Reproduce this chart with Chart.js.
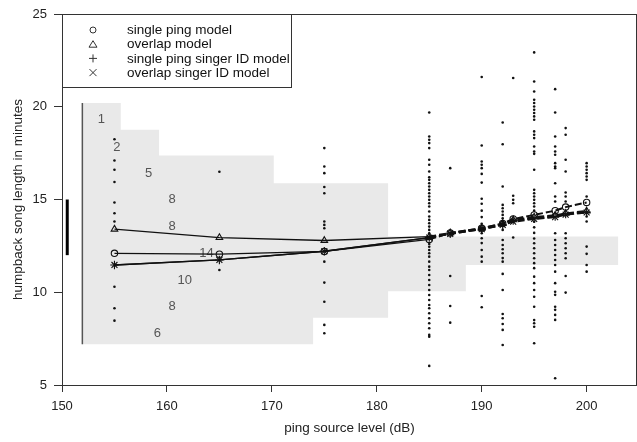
<!DOCTYPE html>
<html>
<head>
<meta charset="utf-8">
<script src="https://cdn.jsdelivr.net/npm/chart.js@4.4.1/dist/chart.umd.min.js"></script>
<style>
  html, body { margin: 0; padding: 0; background: #fff; }
  #canvas { display: block; }
</style>
</head>
<body>
<canvas id="canvas" width="637" height="442"></canvas>
<script>
// ping source levels where the models were evaluated
var levels = [155, 165, 175, 185, 187, 190, 192, 193, 195, 197, 198, 200];
var singlePing   = [12.1, 12.05, 12.2, 12.85, 13.2, 13.45, 13.7, 13.95, 14.17, 14.4, 14.59, 14.84];
var overlap      = [13.4, 12.95, 12.79, 13.0, 13.2, 13.45, 13.7, 13.9, 14.05, 14.15, 14.25, 14.38];
var singlePingID = [11.47, 11.74, 12.21, 12.95, 13.15, 13.4, 13.63, 13.86, 13.99, 14.08, 14.21, 14.32];
var overlapID    = [11.47, 11.74, 12.21, 12.95, 13.15, 13.4, 13.63, 13.8, 13.95, 14.05, 14.18, 14.3];

// observed song lengths per source level
var dots155 = [18.25, 17.1, 16.6, 15.94, 14.84, 14.26, 13.81, 10.3, 9.14, 8.47];
var dots165 = [16.5, 11.2];
var dots175 = [17.77, 16.78, 16.42, 15.67, 15.34, 13.81, 13.63, 13.45, 11.65, 10.52, 9.49, 8.24, 7.79];
var dots185 = [19.69, 18.4, 18.22, 18.04, 17.77, 17.14, 16.87, 16.51, 16.2, 16.06, 15.88, 15.7, 15.52, 15.34, 15.16, 14.98, 14.8, 14.62, 14.35, 14.08, 13.9, 13.72, 13.54, 13.36, 13.18, 12.6, 12.45, 12.28, 12.1, 11.92, 11.65, 11.38, 11.2, 10.93, 10.66, 10.39, 10.12, 9.85, 9.58, 9.31, 9.14, 8.87, 8.6, 8.33, 8.06, 7.7, 7.6, 6.03];
var dots187 = [16.69, 10.88, 9.26, 8.36];
var dots190 = [21.6, 17.91, 17.05, 16.87, 16.69, 16.38, 15.91, 15.04, 14.77, 14.4, 14.05, 13.69, 13.18, 12.91, 12.65, 12.28, 11.92, 11.65, 9.8, 9.19];
var dots192 = [19.15, 17.98, 15.7, 14.71, 14.53, 14.35, 14.17, 13.99, 13.81, 13.36, 12.82, 12.55, 12.32, 12.1, 11.84, 11.65, 10.99, 10.12, 8.83, 8.6, 8.29, 7.97, 7.16];
var dots193 = [21.55, 15.2, 14.98, 14.8, 12.95];
var dots195 = [22.93, 21.36, 20.82, 20.38, 20.2, 20.01, 19.84, 19.66, 19.48, 19.3, 18.67, 18.49, 18.31, 17.86, 17.59, 17.46, 16.6, 15.52, 15.34, 15.16, 14.98, 14.8, 14.62, 14.4, 13.8, 13.5, 13.2, 12.9, 12.64, 12.37, 12.1, 11.83, 11.57, 11.3, 10.84, 10.49, 10.12, 9.76, 9.22, 8.5, 8.33, 8.14, 7.25];
var dots197 = [20.95, 19.69, 18.4, 17.86, 17.59, 17.41, 16.96, 16.78, 16.69, 15.88, 15.16, 14.89, 13.18, 12.82, 12.55, 12.28, 12.01, 11.74, 11.47, 11.11, 10.49, 10.03, 9.86, 9.22, 9.05, 8.78, 8.51, 5.36];
var dots198 = [18.85, 18.49, 17.14, 16.51, 15.38, 15.16, 14.89, 13.18, 12.91, 12.64, 12.37, 12.1, 11.83, 10.88, 9.98];
var dots200 = [16.96, 16.78, 16.6, 16.42, 16.24, 16.06, 15.16, 14.08, 13.81, 12.46, 12.07, 11.47, 11.11];

// grey band: step edges and the level held until the next edge
var bandTopEdges = [151.94, 155.6, 159.25, 170.18, 181.08, 203.0];
var bandTopLevels = [20.2, 18.76, 17.37, 15.88, 13.0];
var bandBottomEdges = [151.94, 173.93, 181.08, 188.49, 203.0];
var bandBottomLevels = [7.2, 8.63, 10.05, 11.47];

// counts written inside the band
var countLabels = ['1', '2', '5', '8', '8', '14', '10', '8', '6'];
var countX = [153.76, 155.24, 158.26, 160.49, 160.49, 163.77, 161.7, 160.49, 159.1];
var countY = [19.3, 17.82, 16.42, 14.98, 13.54, 12.1, 10.66, 9.22, 7.79];

// range bars
var rangeLineX = 151.94, rangeLineY = [20.2, 7.2];
var thickBarX = 150.5, thickBarY = [12.0, 15.0];

var xTicks = [150, 160, 170, 180, 190, 200];
var yTicks = [5, 10, 15, 20, 25];

var legendNames = ['single ping model', 'overlap model', 'single ping singer ID model', 'overlap singer ID model'];

var FONT = "'Liberation Sans', Arial, sans-serif";

function pts(xs, ys) {
    var out = [];
    for (var i = 0; i < xs.length; i++) out.push({x: xs[i], y: ys[i]});
    return out;
}

function column(x, ys) {
    return ys.map(function(v) { return {x: x, y: v}; });
}

var allDots = [].concat(
    column(155, dots155), column(165, dots165), column(175, dots175),
    column(185, dots185), column(187, dots187), column(190, dots190),
    column(192, dots192), column(193, dots193), column(195, dots195),
    column(197, dots197), column(198, dots198), column(200, dots200)
);

var seg = {
    borderDash: function(c) { return c.p0.parsed.x >= 185 ? [7, 3] : undefined; },
    borderWidth: function(c) { return c.p0.parsed.x >= 185 ? 2 : 1.3; }
};

function modelSet(label, data, style, r) {
    return {
        label: label,
        data: pts(levels, data),
        showLine: true,
        borderColor: '#111',
        backgroundColor: 'rgba(0,0,0,0)',
        borderWidth: 1.3,
        pointStyle: style,
        pointRadius: r,
        pointBorderWidth: 1.1,
        pointBorderColor: '#111',
        segment: seg
    };
}

// grey band, count numbers, frame and legend
var extras = {
    id: 'extras',
    beforeDatasetsDraw: function(chart) {
        var ctx = chart.ctx, xs = chart.scales.x, ys = chart.scales.y;
        var X = function(v) { return xs.getPixelForValue(v); };
        var Y = function(v) { return ys.getPixelForValue(v); };
        ctx.save();
        ctx.beginPath();
        ctx.moveTo(X(bandTopEdges[0]), Y(bandTopLevels[0]));
        for (var i = 0; i < bandTopLevels.length; i++) {
            ctx.lineTo(X(bandTopEdges[i]), Y(bandTopLevels[i]));
            ctx.lineTo(X(bandTopEdges[i + 1]), Y(bandTopLevels[i]));
        }
        for (var j = bandBottomLevels.length - 1; j >= 0; j--) {
            ctx.lineTo(X(bandBottomEdges[j + 1]), Y(bandBottomLevels[j]));
            ctx.lineTo(X(bandBottomEdges[j]), Y(bandBottomLevels[j]));
        }
        ctx.closePath();
        ctx.fillStyle = '#e9e9e9';
        ctx.fill();

        ctx.fillStyle = '#555';
        ctx.font = '13px ' + FONT;
        ctx.textAlign = 'center';
        ctx.textBaseline = 'middle';
        for (var k = 0; k < countLabels.length; k++) {
            ctx.fillText(countLabels[k], X(countX[k]), Y(countY[k]));
        }
        ctx.restore();
    },
    afterDraw: function(chart) {
        var ctx = chart.ctx, a = chart.chartArea;
        ctx.save();
        ctx.strokeStyle = '#333';
        ctx.lineWidth = 1;
        ctx.strokeRect(a.left + 0.5, a.top + 0.5, a.right - a.left - 1, a.bottom - a.top);

        // legend box
        var bx = a.left + 0.5, by = a.top + 0.5, bw = 229, bh = 73;
        ctx.fillStyle = '#fff';
        ctx.fillRect(bx, by, bw, bh);
        ctx.strokeRect(bx, by, bw, bh);
        ctx.fillStyle = '#111';
        ctx.font = '13.5px ' + FONT;
        ctx.textAlign = 'left';
        ctx.textBaseline = 'middle';
        var sx = a.left + 31, tx = a.left + 65;
        for (var i = 0; i < legendNames.length; i++) {
            var cy = a.top + 16 + i * 14.2;
            ctx.beginPath();
            ctx.lineWidth = 1;
            if (i === 0) {
                ctx.arc(sx, cy, 3, 0, Math.PI * 2);
            } else if (i === 1) {
                ctx.moveTo(sx, cy - 3.5); ctx.lineTo(sx + 4, cy + 3); ctx.lineTo(sx - 4, cy + 3); ctx.closePath();
            } else if (i === 2) {
                ctx.moveTo(sx - 4, cy); ctx.lineTo(sx + 4, cy); ctx.moveTo(sx, cy - 4); ctx.lineTo(sx, cy + 4);
            } else {
                ctx.moveTo(sx - 3.5, cy - 3.5); ctx.lineTo(sx + 3.5, cy + 3.5); ctx.moveTo(sx + 3.5, cy - 3.5); ctx.lineTo(sx - 3.5, cy + 3.5);
            }
            ctx.stroke();
            ctx.fillText(legendNames[i], tx, cy + 0.5);
        }
        ctx.restore();
    }
};

var config = {
    type: 'scatter',
    data: {
        datasets: [
            modelSet(legendNames[0], singlePing, 'circle', 3.2),
            modelSet(legendNames[1], overlap, 'triangle', 3.8),
            modelSet(legendNames[2], singlePingID, 'cross', 4.2),
            modelSet(legendNames[3], overlapID, 'crossRot', 4.2),
            {
                label: 'range',
                data: pts([rangeLineX, rangeLineX], rangeLineY),
                showLine: true, borderColor: '#555', borderWidth: 1.5, pointRadius: 0
            },
            {
                label: 'bar',
                data: pts([thickBarX, thickBarX], thickBarY),
                showLine: true, borderColor: '#000', borderWidth: 3, pointRadius: 0
            },
            {
                label: 'songs',
                data: allDots,
                showLine: false,
                pointRadius: 1.3,
                pointBorderWidth: 0,
                backgroundColor: '#111',
                borderColor: '#111'
            }
        ]
    },
    options: {
        responsive: false,
        animation: false,
        layout: { autoPadding: false, padding: { top: 14, right: 0, left: 0, bottom: 0 } },
        plugins: { legend: { display: false }, tooltip: { enabled: false } },
        scales: {
            x: {
                type: 'linear',
                min: 150,
                max: 204.8,
                afterBuildTicks: function(s) { s.ticks = xTicks.map(function(v) { return {value: v}; }); },
                afterFit: function(s) { s.height = 57; s.paddingLeft = 0; s.paddingRight = 0; },
                grid: { drawOnChartArea: false, tickLength: 7, color: '#333' },
                border: { color: '#333' },
                ticks: { color: '#222', padding: 7, maxRotation: 0, font: { size: 13, family: FONT } },
                title: { display: true, text: 'ping source level (dB)', color: '#222', padding: { top: 0, bottom: 6 }, font: { size: 13.5, family: FONT } }
            },
            y: {
                min: 5,
                max: 25,
                afterBuildTicks: function(s) { s.ticks = yTicks.map(function(v) { return {value: v}; }); },
                afterFit: function(s) { s.width = 62; s.paddingTop = 0; s.paddingBottom = 0; },
                grid: { drawOnChartArea: false, tickLength: 8, color: '#333' },
                border: { color: '#333' },
                ticks: { color: '#222', padding: 7, font: { size: 13, family: FONT } },
                title: { display: true, text: 'humpback song length in minutes', color: '#222', padding: { top: 10, bottom: 0 }, font: { size: 13.5, family: FONT } }
            }
        }
    },
    plugins: [extras]
};

window.onload = function() {
    var ctx = document.getElementById("canvas").getContext("2d");
    window.myChart = new Chart(ctx, config);
};
</script>
</body>
</html>
